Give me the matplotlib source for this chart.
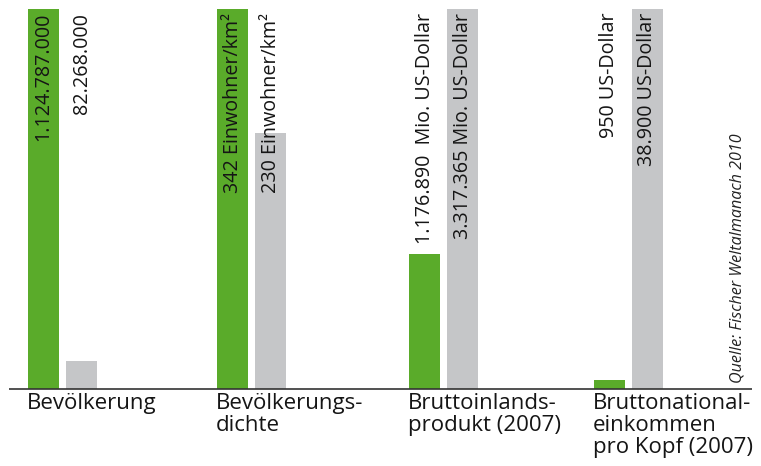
import matplotlib
matplotlib.use("Agg")
import matplotlib.pyplot as plt

plt.rcParams['font.family'] = ['Open Sans', 'DejaVu Sans']

categories = ["Bevölkerung", "Bevölkerungs-\ndichte", "Bruttoinlands-\nprodukt (2007)",
              "Bruttonational-\neinkommen\npro Kopf (2007)"]
india = [1124787000, 342, 1176890, 950]
germany = [82268000, 230, 3317365, 38900]
india_labels = ["1.124.787.000", "342 Einwohner/km²", "1.176.890  Mio. US-Dollar", "950 US-Dollar"]
germany_labels = ["82.268.000", "230 Einwohner/km²", "3.317.365 Mio. US-Dollar", "38.900 US-Dollar"]
source = "Quelle: Fischer Weltalmanach 2010"

GREEN = "#5aab2a"
GRAY = "#c5c6c8"

W, H = 761, 466
fig = plt.figure(figsize=(W / 100, H / 100), dpi=100)
base_px, top_px = 389, 9
ax = fig.add_axes([0, (H - base_px) / H, 1, (base_px - top_px) / H])
ax.set_xlim(0, W)
ax.set_ylim(0, 1)
ax.axis("off")

group_left = [28, 217, 409, 594]
bw, gap = 31, 7

for i in range(len(categories)):
    m = max(india[i], germany[i])
    xg = group_left[i] + bw / 2
    xs = group_left[i] + bw + gap + bw / 2
    ax.bar(xg, india[i] / m, width=bw, color=GREEN, linewidth=0)
    ax.bar(xs, germany[i] / m, width=bw, color=GRAY, linewidth=0)
    ty = (base_px - 13) / (base_px - top_px)
    ax.text(xg, ty, india_labels[i], rotation=90, ha='center', va='top', fontsize=14.2, color='#151515')
    ax.text(xs, ty, germany_labels[i], rotation=90, ha='center', va='top', fontsize=14.2, color='#151515')
    fig.text((group_left[i] - 1) / W, 1 - 393 / H, categories[i], ha='left', va='top',
             fontsize=16, color='#151515', linespacing=1.05)

ax.hlines(0, 9, 752, color='#333333', linewidth=1.2, clip_on=False)

ax.text(738, (base_px - 383) / (base_px - top_px), source, rotation=90, ha='center', va='bottom',
        fontsize=11.6, style='italic', color='#222222')

fig.savefig("out.png", dpi=100)
